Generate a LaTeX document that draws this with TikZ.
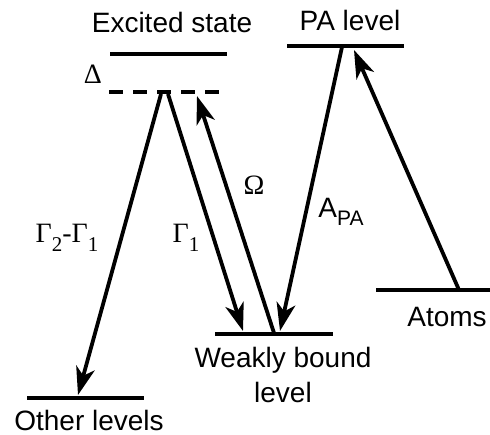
\documentclass[tikz,border=0pt]{standalone}
\usepackage{fontspec}
\setmainfont{Liberation Sans}
\newfontfamily\gr{Liberation Serif}
\usetikzlibrary{arrows.meta}
\begin{document}
\begin{tikzpicture}[x=1pt,y=-1pt,
  level/.style={line width=4.5pt},
  trans/.style={line width=3.8pt,-{Stealth[length=28pt,width=19pt,inset=8pt]}},
  lbl/.style={inner sep=0pt,font=\fontsize{28}{33}\selectfont},
  glbl/.style={inner sep=0pt,font=\fontsize{28}{33}\selectfont\gr}]
\useasboundingbox (0,0) rectangle (490,435);
% levels
\draw[level] (110,54) -- (227,54);
\draw[level,dash pattern=on 14pt off 10pt] (109,92) -- (225,92);
\draw[level] (287,46) -- (404,46);
\draw[level] (215,334) -- (333,334);
\draw[level] (376,290) -- (490,290);
\draw[level] (27,398) -- (144,398);
% labels
\node[lbl] (exc) at (172,22) {Excited state};
\node[lbl] (pa) at (350,20) {PA level};
\node[lbl] (wb) at (283,360) {Weakly bound};
\node[lbl] (wbl) at (283,392) {level};
\node[lbl] (at) at (447,317) {Atoms};
\node[lbl] (ot) at (89,420) {Other levels};
\node[glbl] (delta) at (93,74) {Δ};
\node[glbl] (g21) at (67,238) {Γ\raisebox{-0.3em}{\fontsize{21}{24}\selectfont 2}-Γ\raisebox{-0.3em}{\fontsize{21}{24}\selectfont 1}};
\node[glbl] (g1) at (186,238) {Γ\raisebox{-0.3em}{\fontsize{21}{24}\selectfont 1}};
\node[glbl] (om) at (254,185) {Ω};
\node[lbl] (apa) at (341,212) {A\raisebox{-0.3em}{\fontsize{21}{24}\selectfont PA}};
% endpoints
\coordinate (d1) at (161,94);
\coordinate (d2) at (168,94);
\coordinate (d3) at (197,96);
\coordinate (oth) at (78,395);
\coordinate (w1) at (243,331);
\coordinate (w2) at (274,333);
\coordinate (w3) at (280,331);
\coordinate (p1) at (342,47);
\coordinate (p2) at (354,50);
\coordinate (a1) at (459,290);
% transitions
\draw[trans] (d1) -- (oth);
\draw[trans] (d2) -- (w1);
\draw[trans] (w2) -- (d3);
\draw[trans] (p1) -- (w3);
\draw[trans] (a1) -- (p2);
\end{tikzpicture}
\end{document}
